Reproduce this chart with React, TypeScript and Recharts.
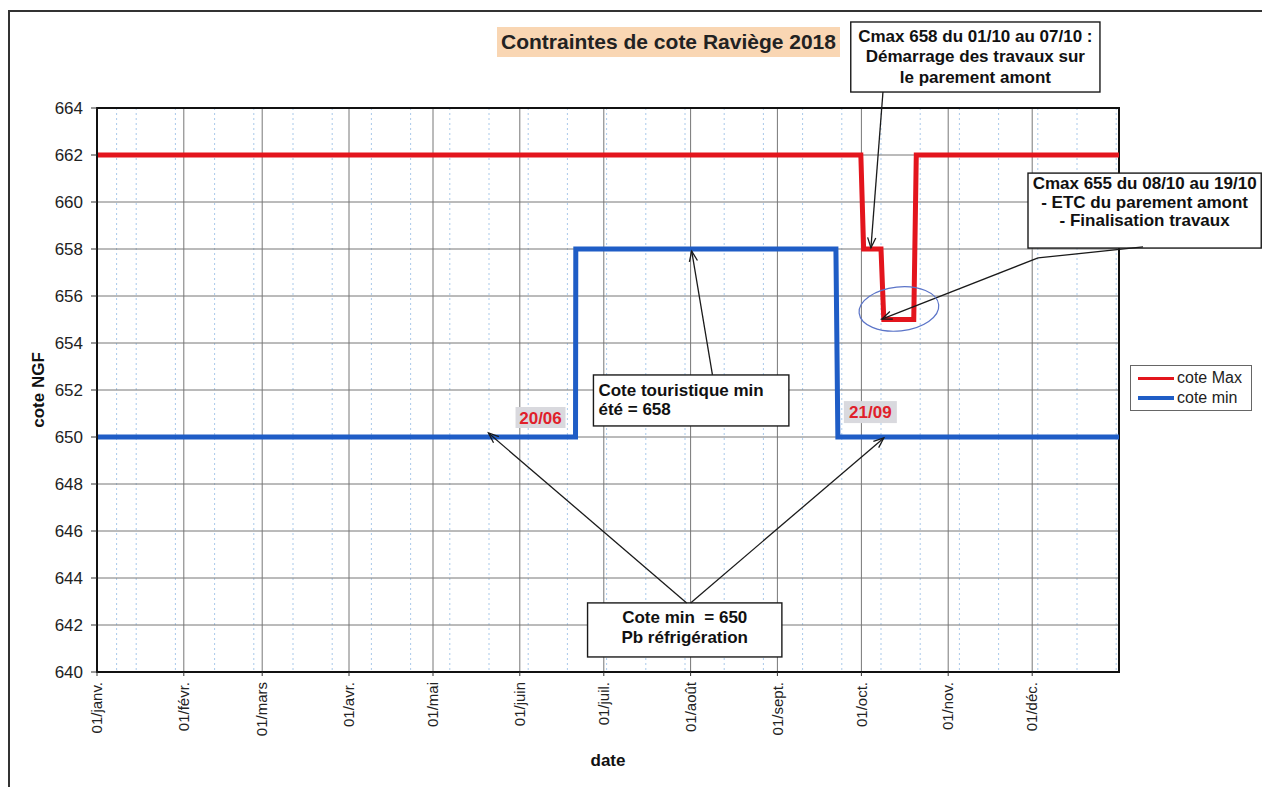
import React from 'react';
import {
  LineChart,
  Line,
  XAxis,
  YAxis,
  CartesianGrid,
  ReferenceLine,
  ReferenceArea,
  ReferenceDot,
  Legend,
} from 'recharts';

const FONT = '"Liberation Sans", Arial, Helvetica, sans-serif';
const RED = '#e3151d';
const BLUE = '#1f5dc6';

// jour de l'année, 0 = 01/janv.
const monthDays = [0, 31, 59, 90, 120, 151, 181, 212, 243, 273, 304, 334];
const monthLabels = [
  '01/janv.', '01/févr.', '01/mars', '01/avr.', '01/mai', '01/juin',
  '01/juil.', '01/août', '01/sept.', '01/oct.', '01/nov.', '01/déc.',
];
const weekDays = [
  7, 14, 21, 28, 35, 42, 49, 56, 63, 70, 77, 84, 91, 98, 105, 112, 119, 126,
  133, 140, 147, 154, 161, 168, 175, 182, 189, 196, 203, 210, 217, 224, 231,
  238, 245, 252, 259, 266, 273, 280, 287, 294, 301, 308, 315, 322, 329, 336,
  343, 350, 357, 364,
];
const yTicks = [640, 642, 644, 646, 648, 650, 652, 654, 656, 658, 660, 662, 664];

const coteMax = [
  { d: 0, v: 662 },
  { d: 272.8, v: 662 },
  { d: 273.8, v: 658 },
  { d: 280, v: 658 },
  { d: 281, v: 655 },
  { d: 291.7, v: 655 },
  { d: 292.6, v: 662 },
  { d: 365, v: 662 },
];
const coteMin = [
  { d: 0, v: 650 },
  { d: 170.9, v: 650 },
  { d: 171, v: 658 },
  { d: 263.9, v: 658 },
  { d: 264.6, v: 650 },
  { d: 365, v: 650 },
];

const series = [
  { name: 'cote Max', color: RED, width: 3 },
  { name: 'cote min', color: BLUE, width: 4 },
];

const DateTick = ({ x, y, payload }: any) => {
  const i = monthDays.indexOf(payload.value);
  return (
    <text
      x={x}
      y={y}
      dy="0.35em"
      transform={`rotate(-90, ${x}, ${y})`}
      textAnchor="end"
      fontSize={15}
      fontFamily={FONT}
      fill="#222"
    >
      {monthLabels[i]}
    </text>
  );
};

const Arrow = ({ x1, y1, x2, y2, head }: any) => {
  const a = Math.atan2(y2 - y1, x2 - x1);
  const L = 11;
  const s = 0.38;
  return (
    <g>
      <line x1={x1} y1={y1} x2={x2} y2={y2} stroke="#1a1a1a" strokeWidth={1.3} />
      {head && (
        <polyline
          points={`${x2 - L * Math.cos(a - s)},${y2 - L * Math.sin(a - s)} ${x2},${y2} ${x2 - L * Math.cos(a + s)},${y2 - L * Math.sin(a + s)}`}
          fill="none"
          stroke="#1a1a1a"
          strokeWidth={1.3}
        />
      )}
    </g>
  );
};

const box =
  (lines: string[], first: number, step: number, align: 'middle' | 'start') =>
  ({ x, y, width, height }: any) => (
    <g>
      <rect x={x} y={y} width={width} height={height} fill="#fff" stroke="#1a1a1a" strokeWidth={1.4} />
      {lines.map((t, i) => (
        <text
          key={i}
          x={align === 'middle' ? x + width / 2 : x + 5}
          y={y + first + i * step}
          textAnchor={align}
          fontSize={17}
          fontWeight="bold"
          fontFamily={FONT}
          fill="#111"
          style={{ whiteSpace: 'pre' }}
        >
          {t}
        </text>
      ))}
    </g>
  );

const tag =
  (t: string, w: number, h: number) =>
  ({ cx, cy }: any) => (
    <g>
      <rect x={cx - w / 2} y={cy - h / 2} width={w} height={h} fill="#d9d9de" />
      <text
        x={cx}
        y={cy}
        dy="0.36em"
        textAnchor="middle"
        fontSize={17}
        fontWeight="bold"
        fontFamily={FONT}
        fill="#e0202a"
      >
        {t}
      </text>
    </g>
  );

const LegendBox = () => (
  <div
    style={{
      border: '1px solid #666',
      background: '#fff',
      height: 46,
      boxSizing: 'border-box',
      padding: '2px 0 0 7px',
      fontFamily: FONT,
      fontSize: 16,
      color: '#222',
    }}
  >
    {series.map((s) => (
      <div key={s.name} style={{ display: 'flex', alignItems: 'center', height: 20 }}>
        <span style={{ width: 36, height: s.width, background: s.color, marginRight: 3 }} />
        <span>{s.name}</span>
      </div>
    ))}
  </div>
);

export default function App() {
  return (
    <div style={{ position: 'relative', width: 1262, height: 787, background: '#fff', overflow: 'hidden' }}>
      <style>{`body{margin:0;overflow:hidden}`}</style>
      <div style={{ position: 'absolute', left: 8, top: 10, width: 1254, height: 1.5, background: '#333' }} />
      <div style={{ position: 'absolute', left: 8, top: 10, width: 1.5, height: 777, background: '#333' }} />
      <div
        style={{
          position: 'absolute',
          left: 497,
          top: 27,
          width: 343,
          height: 30,
          background: '#f9d6b3',
          fontFamily: FONT,
          fontWeight: 'bold',
          fontSize: 21,
          lineHeight: '30px',
          textAlign: 'center',
          color: '#222',
        }}
      >
        Contraintes de cote Raviège 2018
      </div>
      <div style={{ position: 'absolute', left: 9, top: 11 }}>
        {/* la légende (122px) s'ajoute à la marge droite */}
        <LineChart width={1253} height={776} margin={{ top: 97, right: 21, bottom: 40, left: 28 }}>
          <CartesianGrid horizontal={false} verticalValues={weekDays} stroke="#a9c9ea" strokeDasharray="2 3" />
          <CartesianGrid stroke="#777" />
          <XAxis
            dataKey="d"
            type="number"
            domain={[0, 365]}
            ticks={monthDays}
            allowDataOverflow
            height={75}
            tickSize={4}
            tickMargin={6}
            tick={<DateTick />}
            axisLine={{ stroke: '#111', strokeWidth: 2 }}
            tickLine={{ stroke: '#333' }}
            label={({ viewBox }: any) => (
              <text
                x={viewBox.x + viewBox.width / 2}
                y={viewBox.y + 94}
                textAnchor="middle"
                fontSize={17}
                fontWeight="bold"
                fontFamily={FONT}
                fill="#111"
              >
                date
              </text>
            )}
          />
          <YAxis
            type="number"
            domain={[640, 664]}
            ticks={yTicks}
            width={60}
            tickSize={6}
            tickMargin={8}
            tick={{ fontSize: 17, fontFamily: FONT, fill: '#222' }}
            axisLine={{ stroke: '#111', strokeWidth: 2 }}
            tickLine={{ stroke: '#333' }}
            label={({ viewBox }: any) => {
              const cx = viewBox.x + 1;
              const cy = viewBox.y + viewBox.height / 2;
              return (
                <text
                  x={cx}
                  y={cy}
                  dy="0.35em"
                  transform={`rotate(-90, ${cx}, ${cy})`}
                  textAnchor="middle"
                  fontSize={17}
                  fontWeight="bold"
                  fontFamily={FONT}
                  fill="#111"
                >
                  cote NGF
                </text>
              );
            }}
          />
          <ReferenceArea x1={0} x2={365} y1={640} y2={664} fill="none" stroke="#111" strokeWidth={2} ifOverflow="visible" />

          <Line
            data={coteMax}
            dataKey="v"
            name="cote Max"
            type="linear"
            stroke={RED}
            strokeWidth={5}
            dot={false}
            isAnimationActive={false}
          />
          <Line
            data={coteMin}
            dataKey="v"
            name="cote min"
            type="linear"
            stroke={BLUE}
            strokeWidth={5}
            dot={false}
            isAnimationActive={false}
          />

          <ReferenceDot
            x={286.4}
            y={655.45}
            r={1}
            ifOverflow="visible"
            shape={({ cx, cy }: any) => (
              <ellipse
                cx={cx}
                cy={cy}
                rx={40}
                ry={22}
                transform={`rotate(-6, ${cx}, ${cy})`}
                fill="none"
                stroke="#5b74c8"
                strokeWidth={1.2}
              />
            )}
          />
          <ReferenceDot x={158.4} y={650.83} r={1} ifOverflow="visible" shape={tag('20/06', 50, 21)} />
          <ReferenceDot x={276.2} y={651.06} r={1} ifOverflow="visible" shape={tag('21/09', 53, 22)} />

          <ReferenceLine
            segment={[{ x: 280.7, y: 664.68 }, { x: 276.4, y: 658.05 }]}
            ifOverflow="visible"
            shape={(p: any) => <Arrow {...p} head />}
          />
          <ReferenceLine
            segment={[{ x: 373.6, y: 658.09 }, { x: 336.1, y: 657.62 }]}
            ifOverflow="visible"
            shape={(p: any) => <Arrow {...p} />}
          />
          <ReferenceLine
            segment={[{ x: 336.1, y: 657.62 }, { x: 280.3, y: 655.02 }]}
            ifOverflow="visible"
            shape={(p: any) => <Arrow {...p} head />}
          />
          <ReferenceLine
            segment={[{ x: 219.8, y: 652.64 }, { x: 212.4, y: 657.91 }]}
            ifOverflow="visible"
            shape={(p: any) => <Arrow {...p} head />}
          />
          <ReferenceLine
            segment={[{ x: 210.6, y: 642.94 }, { x: 139.8, y: 650.17 }]}
            ifOverflow="visible"
            shape={(p: any) => <Arrow {...p} head />}
          />
          <ReferenceLine
            segment={[{ x: 212.0, y: 642.94 }, { x: 281.0, y: 649.96 }]}
            ifOverflow="visible"
            shape={(p: any) => <Arrow {...p} head />}
          />

          <ReferenceArea
            x1={269.2}
            x2={358.2}
            y1={664.68}
            y2={667.66}
            ifOverflow="visible"
            shape={box(['Cmax 658 du 01/10 au 07/10 :', 'Démarrage des travaux sur', 'le parement amont'], 20, 20.5, 'middle')}
          />
          <ReferenceArea
            x1={332.5}
            x2={415.8}
            y1={658.04}
            y2={661.23}
            ifOverflow="visible"
            shape={box(['Cmax 655 du 08/10 au 19/10', '- ETC du parement amont', '- Finalisation travaux'], 16, 18.5, 'middle')}
          />
          <ReferenceArea
            x1={177.3}
            x2={247.1}
            y1={650.47}
            y2={652.64}
            ifOverflow="visible"
            shape={box(['Cote touristique min', 'été = 658'], 21, 19.5, 'start')}
          />
          <ReferenceArea
            x1={175.2}
            x2={244.6}
            y1={640.64}
            y2={642.94}
            ifOverflow="visible"
            shape={box(['Cote min  = 650', 'Pb réfrigération'], 20, 20, 'middle')}
          />

          <Legend
            layout="horizontal"
            verticalAlign="middle"
            align="right"
            content={<LegendBox />}
            wrapperStyle={{ left: 1121, top: 354, width: 122 }}
          />
        </LineChart>
      </div>
    </div>
  );
}
